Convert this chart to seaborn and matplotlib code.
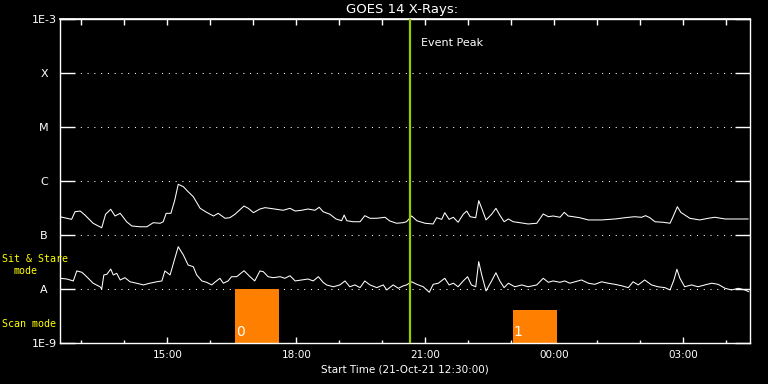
import matplotlib
matplotlib.use("Agg")
import matplotlib.pyplot as plt
from matplotlib.ticker import FixedLocator, NullLocator
import pandas as pd
import seaborn as sns

# ---------------- data (time in hours after 21-Oct-21 12:30:00) ----------------
long_hours = [0, 0.27, 0.35, 0.47, 0.58, 0.77, 0.97, 1.06, 1.18, 1.28,
              1.40, 1.55, 1.67, 1.86, 2.02, 2.17, 2.33, 2.40, 2.47, 2.58,
              2.67, 2.75, 2.87, 2.98, 3.10, 3.26, 3.41, 3.57, 3.68, 3.84,
              3.95, 4.07, 4.28, 4.38, 4.50, 4.65, 4.77, 5.04, 5.19, 5.35,
              5.47, 5.62, 5.77, 5.93, 6.03, 6.12, 6.28, 6.42, 6.55, 6.61,
              6.67, 6.82, 6.98, 7.09, 7.21, 7.37, 7.56, 7.67, 7.83, 7.98,
              8.06, 8.18, 8.30, 8.49, 8.68, 8.76, 8.88, 8.95, 9.05, 9.15,
              9.26, 9.38, 9.46, 9.54, 9.67, 9.74, 9.81, 9.91, 10.04, 10.14,
              10.23, 10.33, 10.43, 10.54, 10.70, 10.89, 11.09, 11.24, 11.36, 11.47,
              11.63, 11.73, 11.82, 11.94, 12.09, 12.29, 12.60, 12.91, 13.14, 13.36,
              13.53, 13.62, 13.72, 13.84, 14.03, 14.19, 14.26, 14.36, 14.44, 14.65,
              14.88, 15.08, 15.23, 15.47, 15.70, 16.01]
# 1-8 A flux, units of 1e-7 W/m^2
long_flux_e7 = [2.18, 1.95, 2.70, 2.78, 2.34, 1.65, 1.36, 2.42, 2.99, 2.25,
                2.52, 1.76, 1.47, 1.42, 1.42, 1.69, 1.65, 1.76, 2.52, 2.52,
                4.45, 8.69, 7.84, 6.34, 5.12, 3.12, 2.63, 2.25, 2.52, 2.04,
                2.09, 2.42, 3.44, 3.12, 2.59, 3.03, 3.21, 2.99, 2.87, 3.12,
                2.78, 2.87, 3.03, 2.87, 3.26, 2.70, 2.42, 1.98, 1.84, 2.34,
                1.84, 1.76, 1.76, 2.28, 2.04, 2.04, 2.13, 1.82, 1.65, 1.69,
                1.76, 2.25, 1.84, 1.65, 1.60, 2.09, 1.95, 2.59, 1.95, 2.13,
                1.72, 2.42, 2.78, 2.18, 2.09, 4.32, 3.12, 1.90, 2.42, 3.12,
                2.34, 1.76, 1.98, 1.76, 1.69, 1.60, 1.65, 2.45, 2.18, 2.25,
                2.13, 2.63, 2.25, 2.18, 2.09, 1.90, 1.90, 1.98, 2.09, 2.18,
                2.13, 2.28, 2.09, 1.76, 1.72, 1.65, 2.18, 3.34, 2.63, 2.04,
                1.90, 2.04, 2.13, 1.98, 1.98, 1.98]

short_hours = [0, 0.16, 0.31, 0.39, 0.51, 0.62, 0.77, 0.93, 0.97, 1.02,
               1.09, 1.18, 1.24, 1.32, 1.40, 1.51, 1.63, 1.78, 1.94, 2.09,
               2.25, 2.37, 2.44, 2.56, 2.65, 2.75, 2.87, 2.98, 3.10, 3.18,
               3.30, 3.41, 3.53, 3.60, 3.72, 3.80, 3.91, 3.99, 4.11, 4.28,
               4.42, 4.53, 4.65, 4.73, 4.84, 4.96, 5.12, 5.23, 5.35, 5.47,
               5.62, 5.77, 5.89, 6.01, 6.12, 6.20, 6.36, 6.51, 6.63, 6.74,
               6.86, 6.98, 7.09, 7.21, 7.37, 7.52, 7.60, 7.75, 7.87, 7.98,
               8.06, 8.18, 8.30, 8.45, 8.59, 8.68, 8.80, 8.95, 9.05, 9.15,
               9.26, 9.38, 9.48, 9.57, 9.67, 9.74, 9.81, 9.91, 10.04, 10.14,
               10.23, 10.33, 10.43, 10.58, 10.74, 10.89, 11.09, 11.24, 11.36, 11.47,
               11.63, 11.74, 11.86, 11.98, 12.13, 12.29, 12.44, 12.60, 12.75, 12.91,
               13.06, 13.22, 13.33, 13.45, 13.60, 13.76, 13.91, 14.07, 14.19, 14.28,
               14.35, 14.42, 14.53, 14.69, 14.84, 15.00, 15.16, 15.31, 15.47, 15.62,
               15.78, 15.93, 16.02]
# 0.5-4 A flux, units of 1e-8 W/m^2
short_flux_e8 = [1.58, 1.53, 1.41, 2.16, 2.04, 1.69, 1.28, 1.10, 1.00, 1.82,
                 1.87, 2.34, 1.82, 1.95, 1.47, 1.62, 1.36, 1.28, 1.19, 1.28,
                 1.36, 1.41, 2.16, 1.82, 3.21, 6.07, 4.26, 2.78, 2.59, 1.82,
                 1.41, 1.33, 1.19, 1.33, 1.58, 1.28, 1.41, 1.69, 1.69, 2.18,
                 1.69, 1.41, 2.16, 2.09, 1.69, 1.62, 1.69, 1.58, 1.76, 1.41,
                 1.47, 1.53, 1.41, 1.69, 1.33, 1.19, 1.10, 1.19, 1.41, 1.10,
                 1.19, 1.06, 1.41, 1.19, 1.06, 1.19, 0.96, 1.19, 1.03, 1.14,
                 1.19, 1.36, 1.22, 1.10, 0.87, 1.22, 1.28, 1.58, 1.19, 1.28,
                 1.10, 1.41, 1.69, 1.19, 1.10, 3.21, 1.82, 0.92, 1.41, 2.00,
                 1.41, 1.06, 1.28, 1.10, 1.19, 1.10, 1.19, 1.58, 1.33, 1.41,
                 1.33, 1.41, 1.28, 1.36, 1.47, 1.28, 1.22, 1.36, 1.28, 1.22,
                 1.15, 1.06, 1.36, 1.19, 1.47, 1.19, 1.10, 1.06, 0.96, 1.47,
                 2.32, 1.58, 1.10, 1.19, 1.10, 1.19, 1.28, 1.22, 1.03, 0.96,
                 1.03, 0.96, 0.89]

level_values = [1e-9, 1e-8, 1e-7, 1e-6, 1e-5, 1e-4, 1e-3]
level_labels = ["1E-9", "A", "B", "C", "M", "X", "1E-3"]

time_major = [2.5, 5.5, 8.5, 11.5, 14.5]
time_labels = ["15:00", "18:00", "21:00", "00:00", "03:00"]
time_hourly = [0.5, 1.5, 2.5, 3.5, 4.5, 5.5, 6.5, 7.5, 8.5, 9.5,
               10.5, 11.5, 12.5, 13.5, 14.5, 15.5]

event_peak = 8.13
scan_start = [4.07, 10.53]
scan_end = [5.09, 11.57]
scan_top = [1e-8, 4.1e-9]
scan_ids = ["0", "1"]

x_end = 16.05
title = "GOES 14 X-Rays:"
xlabel = "Start Time (21-Oct-21 12:30:00)"

# ---------------- style ----------------
sns.set_theme(style="dark")
plt.rcParams.update({
    "figure.facecolor": "black", "axes.facecolor": "black",
    "axes.edgecolor": "white", "text.color": "white",
    "xtick.color": "white", "ytick.color": "white",
    "axes.labelcolor": "white", "axes.grid": False,
})
plt.rcParams["font.family"] = ["DejaVu Sans"]

WHITE = "white"
ORANGE = "#ff8000"
GREEN = "#99cc00"
YELLOW = "#ffff00"

fig = plt.figure(figsize=(7.68, 3.84), dpi=100)
ax = fig.add_axes([60 / 768, 1 - 343 / 384, 690 / 768, 324 / 384])

df = pd.concat([
    pd.DataFrame({"hours": long_hours, "flux": [v * 1e-7 for v in long_flux_e7], "channel": "long"}),
    pd.DataFrame({"hours": short_hours, "flux": [v * 1e-8 for v in short_flux_e8], "channel": "short"}),
])

ax.set_yscale("log")
ax.set_xlim(0, x_end)
ax.set_ylim(1e-9, 1e-3)

# dotted class-level lines
for lv in level_values[1:-1]:
    ax.axhline(lv, color=WHITE, lw=0.75, linestyle=(0, (1.0, 5.5)), zorder=1)

# scan mode bars
for s, e, top, lab in zip(scan_start, scan_end, scan_top, scan_ids):
    ax.bar(s, top - 1e-9, width=e - s, bottom=1e-9, align="edge",
           color=ORANGE, linewidth=0, zorder=2)
    ax.text(s + 0.02, 10 ** -8.8, lab, color=WHITE, fontsize=10,
            ha="left", va="center", zorder=3)

sns.lineplot(data=df, x="hours", y="flux", units="channel", estimator=None,
             color=WHITE, lw=0.75, sort=False, ax=ax, legend=False, zorder=4)

ax.axvline(event_peak, color=GREEN, lw=1.6, zorder=5)
ax.text(event_peak + 0.26, 10 ** -3.44, "Event Peak", color=WHITE,
        fontsize=8, ha="left", va="center")

# axes / ticks
for sp in ax.spines.values():
    sp.set_color(WHITE)
    sp.set_linewidth(1.0)
    sp.set_visible(True)

ax.yaxis.set_major_locator(FixedLocator(level_values))
ax.yaxis.set_minor_locator(NullLocator())
ax.set_yticks(level_values, level_labels, ha="center")
ax.tick_params(axis="y", which="major", direction="in", length=10.8, width=1,
               left=True, right=True, pad=11.5, labelsize=8, colors=WHITE)

ax.set_xticks(time_major, time_labels)
ax.set_xticks(time_hourly, minor=True)
ax.tick_params(axis="x", which="major", direction="in", length=4.3, width=1,
               bottom=True, top=False, pad=5, labelsize=7.5, colors=WHITE)
ax.tick_params(axis="x", which="minor", direction="in", length=2.2, width=1,
               bottom=True, top=False)

sec = ax.secondary_xaxis("top")
sec.set_xticks(time_hourly)
sec.tick_params(axis="x", which="major", direction="in", length=4.3, width=1,
                labeltop=False, colors=WHITE)
sec.spines["top"].set_color(WHITE)

ax.set_xlabel(xlabel, fontsize=7.5, color=WHITE, labelpad=3)
ax.set_ylabel("")

fig.text(402 / 768, 1 - 10 / 384, title, ha="center", va="center", fontsize=9.5, color=WHITE)
mono = ["DejaVu Sans Mono"]
fig.text(2 / 768, 1 - 259 / 384, "Sit & Stare", ha="left", va="center",
         fontsize=7.2, color=YELLOW, family=mono)
fig.text(13 / 768, 1 - 271 / 384, "mode", ha="left", va="center",
         fontsize=7.2, color=YELLOW, family=mono)
fig.text(2 / 768, 1 - 324 / 384, "Scan mode", ha="left", va="center",
         fontsize=7.2, color=YELLOW, family=mono)

fig.savefig("out.png", dpi=100, facecolor="black")
